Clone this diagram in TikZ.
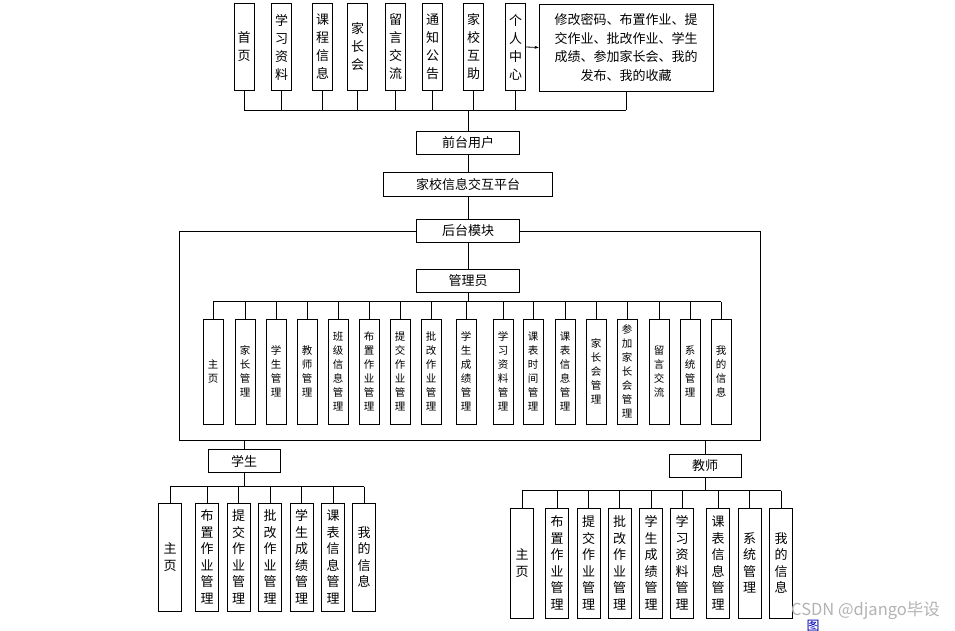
\documentclass[tikz,border=0pt]{standalone}
\usepackage{fontspec}
\setmainfont{Noto Sans CJK SC}
\usetikzlibrary{positioning,arrows.meta}

\tikzset{
  box/.style={draw=black, line width=0.8pt, fill=white, inner sep=0pt, align=center},
  topbox/.style={box, minimum width=20pt, minimum height=87pt, font=\fontsize{13}{18}\selectfont},
  midbox/.style={box, minimum width=103pt, minimum height=23pt, font=\fontsize{13}{15}\selectfont},
  admbox/.style={box, minimum width=20pt, minimum height=105pt, font=\fontsize{10.5}{14}\selectfont},
  usrbox/.style={box, minimum width=23pt, font=\fontsize{13}{16.5}\selectfont},
  link/.style={line width=0.8pt, black},
}

\begin{document}
\begin{tikzpicture}[x=1pt, y=-1pt]
\useasboundingbox (0,0) rectangle (955,631);

% front end modules
\foreach \x/\t [count=\i] in {244/{首\\页}, 281.5/{学\\习\\资\\料}, 322.5/{课\\程\\信\\息},
  357.5/{家\\长\\会}, 395.5/{留\\言\\交\\流}, 432.5/{通\\知\\公\\告},
  473.5/{家\\校\\互\\助}, 515.5/{个\\人\\中\\心}}
  \node[topbox] (top\i) at (\x,47) {\t};
\node[box, minimum width=174pt, minimum height=87pt, font=\fontsize{13}{18.5}\selectfont]
  (mine) at (626,47.5) {修改密码、布置作业、提\\交作业、批改作业、学生\\成绩、参加家长会、我的\\发布、我的收藏};
\draw[link, -{Stealth[length=4pt, width=3pt]}] (top8.east) -- (mine.west);

\node[midbox] (front) at (468,143) {前台用户};
\node[midbox, minimum width=169pt, minimum height=24pt] (platform) at (468,184.5) {家校信息交互平台};
\node[midbox] (back) at (468,231) {后台模块};
\node[midbox] (admin) at (468,281) {管理员};

\coordinate (topbus) at (468,110);
\foreach \i in {1,...,8} \draw[link] (top\i.south) -- (top\i.south |- topbus);
\draw[link] (mine.south) -- (mine.south |- topbus);
\draw[link] (top1.south |- topbus) -- (mine.south |- topbus);
\draw[link] (topbus) -- (front.north);
\draw[link] (front.south) -- (platform.north);
\draw[link] (platform.south) -- (back.north);
\draw[link] (back.south) -- (admin.north);

% back end frame
\coordinate (frameBL) at (179,440);
\coordinate (frameBR) at (760,440);
\draw[link] (back.west) -| (frameBL) -- (frameBR) |- (back.east);

% admin modules
\foreach \x/\t [count=\i] in {213/{主\\页}, 245/{家\\长\\管\\理}, 276/{学\\生\\管\\理},
  307/{教\\师\\管\\理}, 338/{班\\级\\信\\息\\管\\理}, 369/{布\\置\\作\\业\\管\\理},
  400/{提\\交\\作\\业\\管\\理}, 431/{批\\改\\作\\业\\管\\理}, 466/{学\\生\\成\\绩\\管\\理},
  503/{学\\习\\资\\料\\管\\理}, 533/{课\\表\\时\\间\\管\\理}, 565/{课\\表\\信\\息\\管\\理},
  596/{家\\长\\会\\管\\理}, 627/{参\\加\\家\\长\\会\\管\\理}, 659/{留\\言\\交\\流},
  690/{系\\统\\管\\理}, 721/{我\\的\\信\\息}}
  \node[admbox] (adm\i) at (\x,371.5) {\t};
\coordinate (admbus) at (468,301.5);
\draw[link] (admin.south) -- (admbus);
\draw[link] (adm1.north |- admbus) -- (adm17.north |- admbus);
\foreach \i in {1,...,17} \draw[link] (adm\i.north |- admbus) -- (adm\i.north);

% student
\node[midbox, minimum width=72pt] (student) at (244,461) {学生};
\draw[link] (student.north |- frameBL) -- (student.north);
\foreach \x/\t [count=\i] in {170/{主\\页}, 207/{布\\置\\作\\业\\管\\理}, 238.5/{提\\交\\作\\业\\管\\理},
  270/{批\\改\\作\\业\\管\\理}, 301.5/{学\\生\\成\\绩\\管\\理}, 333/{课\\表\\信\\息\\管\\理},
  364/{我\\的\\信\\息}}
  \node[usrbox, minimum height=108pt] (stu\i) at (\x,557) {\t};
\coordinate (stubus) at (244,486.5);
\draw[link] (student.south) -- (stubus);
\draw[link] (stu1.north |- stubus) -- (stu7.north |- stubus);
\foreach \i in {1,...,7} \draw[link] (stu\i.north |- stubus) -- (stu\i.north);

% teacher
\node[midbox, minimum width=72pt] (teacher) at (705,466) {教师};
\draw[link] (teacher.north |- frameBL) -- (teacher.north);
\foreach \x/\t [count=\i] in {522/{主\\页}, 557/{布\\置\\作\\业\\管\\理}, 588.5/{提\\交\\作\\业\\管\\理},
  619.5/{批\\改\\作\\业\\管\\理}, 651/{学\\生\\成\\绩\\管\\理}, 682/{学\\习\\资\\料\\管\\理},
  718/{课\\表\\信\\息\\管\\理}, 749.5/{系\\统\\管\\理}, 781/{我\\的\\信\\息}}
  \node[usrbox, minimum height=110pt] (tea\i) at (\x,563) {\t};
\coordinate (teabus) at (705,490.5);
\draw[link] (teacher.south) -- (teabus);
\draw[link] (tea1.north |- teabus) -- (tea9.north |- teabus);
\foreach \i in {1,...,9} \draw[link] (tea\i.north |- teabus) -- (tea\i.north);

% watermark
\node[text=black!30, font=\fontsize{16.5}{18}\selectfont, anchor=west, inner sep=0pt] (mark) at (791,611) {CSDN @django毕设};
\node[text=blue!70!black, font=\fontsize{13}{14}\selectfont, inner sep=0pt] (tu) at (813,626) {图};
\end{tikzpicture}
\end{document}
